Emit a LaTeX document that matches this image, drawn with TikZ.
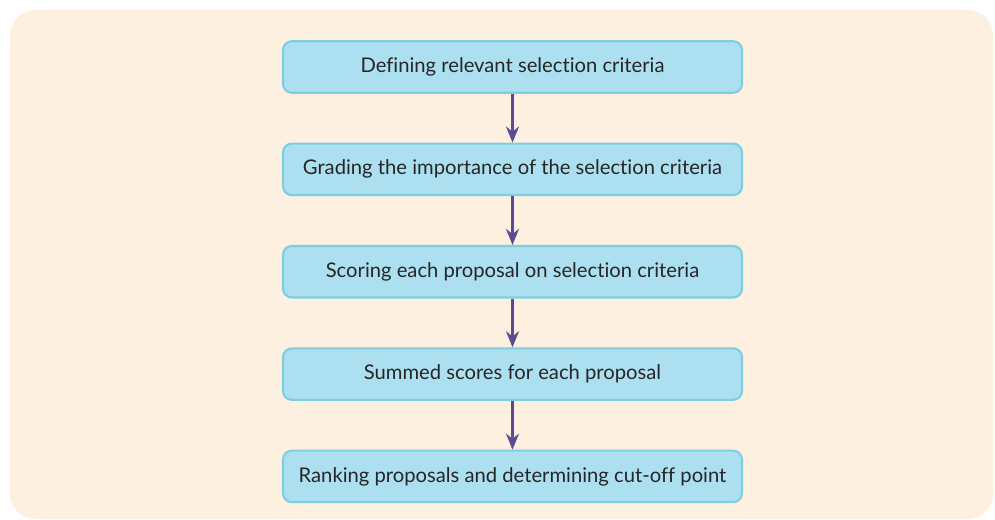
\documentclass[tikz,border=0pt]{standalone}
\usepackage{fontspec}
\setmainfont[Ligatures=NoCommon]{Lato}
\usepackage{xcolor}
\usetikzlibrary{arrows.meta,positioning}
\definecolor{bgpanel}{HTML}{FDF0E1}
\definecolor{boxfill}{HTML}{ACDFF0}
\definecolor{boxline}{HTML}{7DCFE0}
\definecolor{flow}{HTML}{5B4A94}

\begin{document}
\begin{tikzpicture}[node distance=9.75mm, every node/.style={font=\fontsize{11.5}{13}\selectfont, text=black!85},
  stage/.style={draw=boxline, line width=1.2pt, fill=boxfill, rounded corners=5pt,
    minimum width=91.8mm, minimum height=10.3mm, inner sep=0pt},
  link/.style={-{Stealth[length=3.2mm, width=2.6mm]}, draw=flow, line width=1.3pt}]
\useasboundingbox (0,0) rectangle (19.9,-10.4);
\fill[bgpanel, rounded corners=5mm] (0.2,-0.2) rectangle (19.86,-10.38);
\node[stage] (crit) at (10.25,-1.34) {Defining relevant selection criteria};
\node[stage, below=of crit] (grade) {Grading the importance of the selection criteria};
\node[stage, below=of grade] (score) {Scoring each proposal on selection criteria};
\node[stage, below=of score] (sum) {Summed scores for each proposal};
\node[stage, below=of sum] (rank) {Ranking proposals and determining cut-off point};
\draw[link] (crit)--(grade); \draw[link] (grade)--(score);
\draw[link] (score)--(sum); \draw[link] (sum)--(rank);
\end{tikzpicture}
\end{document}
